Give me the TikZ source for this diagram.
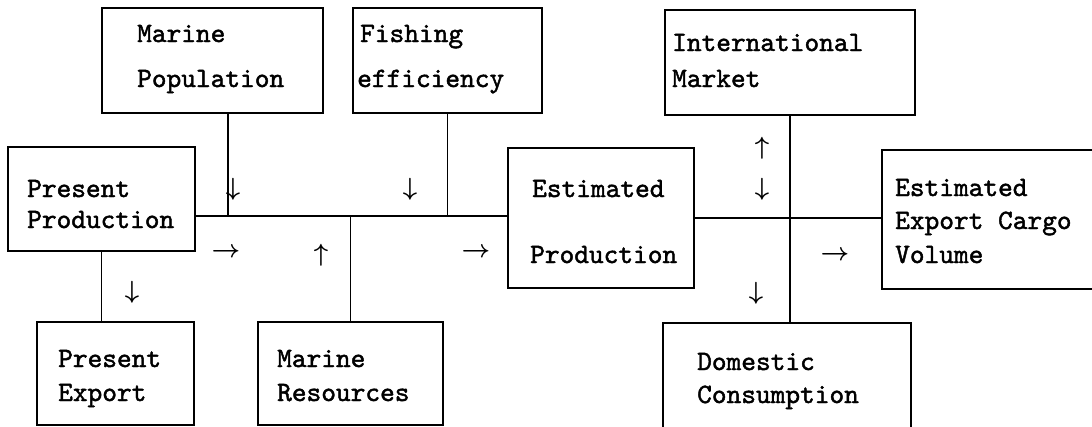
\documentclass[tikz,border=0pt]{standalone}
\usepackage{amsmath}
\usepackage{fontspec}
\newfontfamily\boxfont{lmmono10-regular.otf}[FakeBold=1.6]
\begin{document}
\begin{tikzpicture}[x=1pt,y=-1pt,
  box/.style={draw=black,line width=1.6pt,inner sep=0pt,fill=none},
  label/.style={anchor=base west,inner sep=0pt,
    font=\fontsize{28}{30}\selectfont\boxfont},
  flow/.style={anchor=center,inner sep=0pt,font=\fontsize{24}{26}\selectfont},
  link/.style={draw=black,line width=1.6pt}]
\useasboundingbox (0,0) rectangle (1092,426);

% boxes
\node[box,minimum width=221pt,minimum height=105pt] (mp) at (212.5,60.5) {};
\node[box,minimum width=189pt,minimum height=105pt] (fe) at (447.5,60.5) {};
\node[box,minimum width=250pt,minimum height=105pt] (im) at (790,62.5) {};
\node[box,minimum width=187pt,minimum height=104pt] (pp) at (101.5,199) {};
\node[box,minimum width=186pt,minimum height=140pt] (ep) at (601,218) {};
\node[box,minimum width=228pt,minimum height=139pt] (ec) at (996,219.5) {};
\node[box,minimum width=157pt,minimum height=103pt] (pe) at (115.5,373.5) {};
\node[box,minimum width=185pt,minimum height=103pt] (mr) at (350.5,373.5) {};
\node[box,minimum width=248pt,minimum height=113pt] (dc) at (787,379.5) {};

% box texts
\node[label] (mpa) at (137,42) {Marine};
\node[label] (mpb) at (137,87) {Population};
\node[label] (fea) at (360,42) {Fishing};
\node[label] (feb) at (357,87) {efficiency};
\node[label] (ima) at (672,51) {International};
\node[label] (imb) at (672,87) {Market};
\node[label] (ppa) at (27,197) {Present};
\node[label] (ppb) at (27,228) {Production};
\node[label] (epa) at (532,197) {Estimated};
\node[label] (epb) at (530,263) {Production};
\node[label] (eca) at (895,196) {Estimated};
\node[label] (ecb) at (895,229) {Export Cargo};
\node[label] (ecc) at (895,263) {Volume};
\node[label] (pea) at (58,367) {Present};
\node[label] (peb) at (58,401) {Export};
\node[label] (mra) at (277,367) {Marine};
\node[label] (mrb) at (277,401) {Resources};
\node[label] (dca) at (697,370) {Domestic};
\node[label] (dcb) at (697,403) {Consumption};

% junction of the left-hand lines
\coordinate (jmain) at (228,216);

% connecting lines
\draw[link] (mp.south -| jmain) -- (jmain);
\draw[link] (fe.south) -- (fe.south |- jmain);
\draw[link] (pp.east |- jmain) -- (ep.west |- jmain);
\draw[link] (mr.north) -- (mr.north |- jmain);
\draw[link] (pp.south) -- (pe.north -| pp.south);
\draw[link] (ep.east) -- (ep.east -| ec.west);
\draw[link] (im.south) -- (dc.north -| im.south);

% flow direction marks
\node[flow] (d1) at (233,189) {$\boldsymbol{\downarrow}$};
\node[flow] (d2) at (410,189) {$\boldsymbol{\downarrow}$};
\node[flow] (r1) at (226,253) {$\boldsymbol{\rightarrow}$};
\node[flow] (u1) at (321,255) {$\boldsymbol{\uparrow}$};
\node[flow] (r2) at (476,253) {$\boldsymbol{\rightarrow}$};
\node[flow] (d3) at (132,292) {$\boldsymbol{\downarrow}$};
\node[flow] (u2) at (762,148) {$\boldsymbol{\uparrow}$};
\node[flow] (d4) at (762,189) {$\boldsymbol{\downarrow}$};
\node[flow] (d5) at (756,293) {$\boldsymbol{\downarrow}$};
\node[flow] (r3) at (835,256) {$\boldsymbol{\rightarrow}$};
\end{tikzpicture}
\end{document}
